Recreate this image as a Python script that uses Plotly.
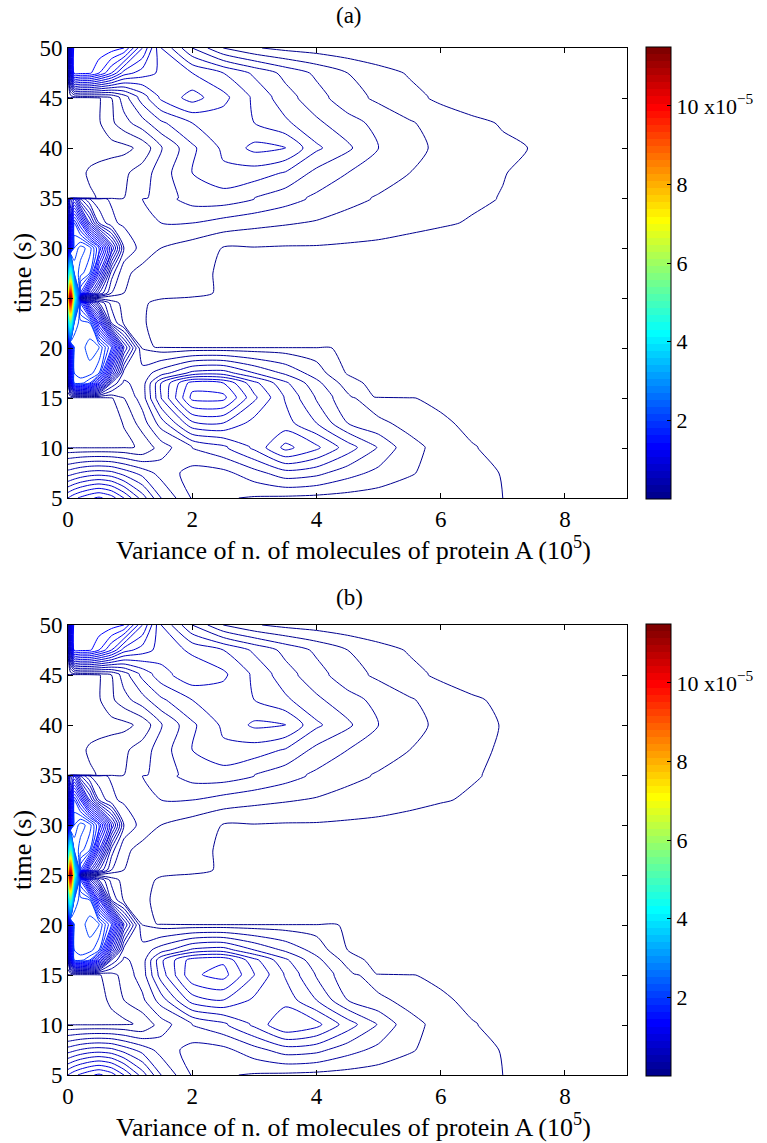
import numpy as np
import plotly.graph_objects as go

# variance grid (units of 10^5) and time rows (s)
X_VAR = [0, 0.04, 0.1, 0.2, 0.35, 0.5, 0.7, 0.9, 1.2, 1.5, 2.0, 2.5, 3.0, 3.5,
         4.0, 4.5, 5.0, 5.5, 6.0, 6.5, 7.0, 7.5, 8.0, 9.0]
TIME_ROWS = [5, 7.5, 10, 10.1, 12.5, 15, 15.1, 16.5, 17.5, 20, 20.1, 22.5, 24.5, 25,
             25.5, 27.5, 30, 32.5, 34.9, 35, 37.5, 40, 42.5, 45, 45.1, 47.5, 50]

# probability density, units of 10^-6, one row per time
Z_A = [
    [10, 10.3, 10.7, 11.2, 11.8, 12.2, 11.5, 10, 7.5, 5, 2.9, 2.1, 1.9, 1.8, 1.7, 1.6, 1.5, 1.4, 1.3, 1.2, 1.0, 0.7, 0.3, 0],
    [5.5, 5.6, 5.8, 6.1, 6.4, 6.5, 6.3, 5.6, 4.6, 3.6, 2.6, 2.7, 3.6, 4.6, 4.3, 3.4, 2.7, 2.1, 1.6, 1.35, 0.95, 0.6, 0.1, 0],
    [1.2, 1.2, 1.2, 1.2, 1.2, 1.2, 1.2, 1.2, 1.1, 2.5, 4.0, 4.8, 6.2, 8.3, 7.2, 5.5, 3.9, 2.3, 1.7, 1.1, 0.6, 0.2, 0, 0],
    [0.2, 0.2, 0.2, 0.2, 0.2, 0.2, 0.3, 0.6, 1.3, 2.5, 4.0, 4.8, 6.2, 8.3, 7.2, 5.5, 3.9, 2.3, 1.7, 1.1, 0.6, 0.2, 0, 0],
    [0.2, 0.2, 0.2, 0.2, 0.2, 0.2, 0.3, 1.1, 2.5, 4.5, 7.8, 8.0, 6.6, 6.4, 5.0, 3.0, 2.2, 1.7, 1.3, 0.6, 0.2, 0, 0, 0],
    [0.8, 0.8, 0.8, 0.8, 0.8, 0.8, 0.9, 2.0, 3.5, 7.0, 11.3, 11.3, 8.2, 5.9, 3.9, 2.2, 1.4, 1.1, 0.6, 0.2, 0, 0, 0, 0],
    [1.5, 1.5, 1.5, 1.5, 1.5, 1.5, 1.5, 2.2, 3.5, 7.0, 11.3, 11.3, 8.2, 5.9, 3.9, 2.2, 0.8, 0.6, 0.3, 0.1, 0, 0, 0, 0],
    [3, 10, 19, 19.5, 18, 13, 5, 2.8, 3.5, 7, 10.5, 10, 7.3, 5.2, 3.3, 1.5, 0.5, 0.3, 0.1, 0, 0, 0, 0, 0],
    [4, 12, 20, 20.5, 20.5, 19, 10, 3.5, 3.5, 4.5, 6.3, 6.5, 5.0, 3.8, 2.5, 0.9, 0.3, 0.1, 0, 0, 0, 0, 0, 0],
    [4, 12, 20, 20.5, 21.5, 21, 17, 8, 1.9, 1.5, 1.5, 1.5, 1.5, 1.5, 1.4, 0.6, 0.3, 0.1, 0, 0, 0, 0, 0, 0],
    [4, 12, 20, 20.5, 21.5, 21, 17, 8, 1.5, 0.7, 0.3, 0.2, 0.1, 0.1, 0.1, 0, 0, 0, 0, 0, 0, 0, 0, 0],
    [30, 50, 22, 20.5, 20, 13, 4, 1.8, 1.1, 0.6, 0.2, 0, 0, 0, 0, 0, 0, 0, 0, 0, 0, 0, 0, 0],
    [50, 102, 40, 17, 9, 5, 2.6, 1.6, 1.1, 0.8, 0.5, 0.2, 0, 0, 0, 0, 0, 0, 0, 0, 0, 0, 0, 0],
    [60, 115.5, 50, 3, 1.8, 1.5, 1.3, 1.2, 1.1, 1.05, 0.95, 0.4, 0, 0, 0, 0, 0, 0, 0, 0, 0, 0, 0, 0],
    [50, 102, 40, 17, 10, 6, 3, 2, 1.6, 1.4, 1.2, 0.9, 0.3, 0, 0, 0, 0, 0, 0, 0, 0, 0, 0, 0],
    [30, 50, 22, 20.5, 19, 12, 4.5, 2.2, 1.7, 1.5, 1.3, 0.85, 0.3, 0, 0, 0, 0, 0, 0, 0, 0, 0, 0, 0],
    [5, 12, 20, 21.5, 20.5, 17, 10, 4, 2.5, 2.0, 1.5, 0.95, 0.95, 0.9, 0.9, 0.85, 0.8, 0.6, 0.3, 0.1, 0, 0, 0, 0],
    [4, 11, 18, 15, 9, 5, 3.2, 2.8, 3.0, 3.0, 3.0, 2.6, 2.3, 2.1, 1.9, 1.6, 1.4, 1.3, 1.15, 0.9, 0.4, 0, 0, 0],
    [3, 8, 10, 6, 4, 3.2, 2.9, 2.8, 3.0, 3.6, 4.4, 4.5, 4.0, 3.4, 2.8, 2.3, 1.9, 1.6, 1.35, 1.2, 0.95, 0.1, 0, 0],
    [0.3, 0.3, 0.4, 0.6, 0.8, 1.1, 1.5, 2.0, 2.8, 3.5, 4.4, 4.5, 4.0, 3.4, 2.8, 2.3, 1.9, 1.6, 1.35, 1.2, 0.95, 0.1, 0, 0],
    [0.3, 0.3, 0.4, 0.7, 1.2, 1.4, 1.6, 1.8, 2.5, 3.5, 5.0, 5.8, 5.5, 4.9, 3.7, 3.0, 2.5, 2.0, 1.6, 1.3, 1.05, 0.7, 0, 0],
    [0.3, 0.3, 0.3, 0.3, 0.4, 0.5, 0.6, 0.7, 1.3, 2.9, 4.8, 6.2, 7.3, 7.05, 5.2, 4.2, 3.0, 2.3, 1.8, 1.5, 1.2, 0.95, 0.2, 0],
    [0.3, 0.3, 0.3, 0.4, 0.6, 0.9, 1.8, 2.6, 3.6, 4.8, 6.0, 6.4, 6.0, 5.2, 4.2, 3.4, 2.7, 2.1, 1.6, 1.3, 0.9, 0.4, 0, 0],
    [0.5, 0.5, 0.5, 0.5, 0.6, 0.9, 2.0, 3.5, 5.5, 7.2, 8.4, 7.3, 5.8, 4.4, 3.4, 2.4, 1.8, 1.3, 0.8, 0.3, 0, 0, 0, 0],
    [1.5, 1.5, 1.8, 1.8, 1.8, 1.9, 2.2, 3.5, 5.5, 7.2, 8.4, 7.3, 5.8, 4.4, 3.4, 2.4, 1.8, 1.3, 0.8, 0.3, 0, 0, 0, 0],
    [2, 8, 15.5, 15.3, 15.2, 14, 12, 9.5, 8.5, 7.8, 7.0, 6.0, 4.8, 3.7, 2.8, 2.0, 1.4, 0.9, 0.4, 0, 0, 0, 0, 0],
    [2, 9, 16, 15.8, 15.8, 15.8, 15.5, 15, 11, 7, 4, 2, 1.1, 0.7, 0.5, 0.3, 0.1, 0, 0, 0, 0, 0, 0, 0],
]

Z_B = [
    [10, 10.3, 10.7, 11.2, 11.8, 12.2, 11.5, 10, 7.5, 5, 2.9, 2.1, 1.9, 1.8, 1.7, 1.6, 1.5, 1.4, 1.3, 1.2, 1.0, 0.7, 0.3, 0],
    [5.5, 5.6, 5.8, 6.1, 6.4, 6.5, 6.3, 5.6, 4.6, 3.6, 2.6, 2.7, 3.6, 4.5, 4.3, 3.4, 2.7, 2.1, 1.6, 1.35, 0.95, 0.6, 0.1, 0],
    [1.2, 1.2, 1.2, 1.2, 1.2, 1.2, 1.2, 1.2, 1.1, 2.5, 4.0, 4.8, 6.2, 8.0, 7.3, 5.5, 3.9, 2.3, 1.7, 1.1, 0.6, 0.2, 0, 0],
    [0.2, 0.2, 0.2, 0.2, 0.2, 0.3, 0.5, 0.7, 1.3, 2.5, 4.0, 4.8, 6.2, 8.0, 7.3, 5.5, 3.9, 2.3, 1.7, 1.1, 0.6, 0.2, 0, 0],
    [0.2, 0.2, 0.2, 0.2, 0.3, 0.5, 1.3, 2.0, 2.8, 4.5, 7.5, 8.0, 6.8, 6.6, 5.0, 3.0, 2.2, 1.7, 1.3, 0.6, 0.2, 0, 0, 0],
    [0.8, 0.8, 0.8, 0.8, 0.8, 0.9, 1.6, 2.4, 3.5, 6.5, 9.8, 10.4, 8.0, 5.9, 3.9, 2.3, 1.5, 1.1, 0.6, 0.2, 0, 0, 0, 0],
    [1.5, 1.5, 1.5, 1.5, 1.5, 1.5, 1.8, 2.4, 3.5, 6.5, 9.8, 10.4, 8.0, 5.9, 3.9, 2.3, 0.9, 0.6, 0.3, 0.1, 0, 0, 0, 0],
    [3, 10, 19, 19.5, 18, 13, 5, 2.8, 3.5, 6.8, 9.5, 9.8, 7.3, 5.2, 3.3, 1.6, 0.5, 0.3, 0.1, 0, 0, 0, 0, 0],
    [4, 12, 20, 20.5, 20.5, 19, 10, 3.5, 3.5, 4.5, 6.2, 6.5, 5.0, 3.8, 2.6, 1.0, 0.3, 0.1, 0, 0, 0, 0, 0, 0],
    [4, 12, 20, 20.5, 21.5, 21, 17, 8, 2, 1.6, 1.5, 1.5, 1.5, 1.5, 1.5, 0.8, 0.3, 0.1, 0, 0, 0, 0, 0, 0],
    [4, 12, 20, 20.5, 21.5, 21, 17, 8, 1.6, 0.8, 0.3, 0.2, 0.1, 0.1, 0.1, 0, 0, 0, 0, 0, 0, 0, 0, 0],
    [30, 50, 22, 20.5, 20, 13, 4, 1.8, 1.2, 0.7, 0.2, 0, 0, 0, 0, 0, 0, 0, 0, 0, 0, 0, 0, 0],
    [50, 102, 40, 17, 9, 5, 2.6, 1.6, 1.2, 0.9, 0.5, 0.2, 0, 0, 0, 0, 0, 0, 0, 0, 0, 0, 0, 0],
    [60, 115.5, 50, 3, 1.8, 1.5, 1.3, 1.2, 1.1, 1.05, 0.95, 0.4, 0, 0, 0, 0, 0, 0, 0, 0, 0, 0, 0, 0],
    [50, 102, 40, 17, 10, 6, 3, 2, 1.6, 1.4, 1.2, 0.9, 0.3, 0, 0, 0, 0, 0, 0, 0, 0, 0, 0, 0],
    [30, 50, 22, 20.5, 19, 12, 4.5, 2.2, 1.7, 1.5, 1.3, 0.85, 0.3, 0, 0, 0, 0, 0, 0, 0, 0, 0, 0, 0],
    [5, 12, 20, 21.5, 20.5, 17, 10, 4, 2.5, 2.0, 1.5, 0.95, 0.95, 0.9, 0.9, 0.85, 0.8, 0.6, 0.3, 0.1, 0, 0, 0, 0],
    [4, 11, 18, 15, 9, 5, 3.2, 2.8, 3.0, 3.0, 3.0, 2.6, 2.3, 2.1, 1.9, 1.6, 1.4, 1.3, 1.1, 0.85, 0.3, 0, 0, 0],
    [3, 8, 10, 6, 4, 3.2, 2.9, 2.8, 3.0, 3.6, 4.4, 4.5, 4.0, 3.4, 2.8, 2.3, 1.9, 1.6, 1.3, 1.1, 0.8, 0.1, 0, 0],
    [0.3, 0.3, 0.4, 0.6, 0.8, 1.1, 1.5, 2.0, 2.8, 3.5, 4.4, 4.5, 4.0, 3.4, 2.8, 2.3, 1.9, 1.6, 1.3, 1.1, 0.8, 0.1, 0, 0],
    [0.3, 0.3, 0.4, 0.7, 1.2, 1.4, 1.6, 1.8, 2.5, 3.5, 5.0, 5.8, 5.5, 4.9, 3.7, 3.0, 2.5, 2.0, 1.55, 1.2, 0.9, 0.3, 0, 0],
    [0.3, 0.3, 0.3, 0.3, 0.4, 0.5, 0.6, 0.7, 1.3, 2.9, 4.8, 6.2, 7.2, 7.05, 5.2, 4.2, 3.0, 2.3, 1.8, 1.35, 0.95, 0.3, 0, 0],
    [0.3, 0.3, 0.3, 0.4, 0.6, 0.9, 1.8, 2.6, 3.6, 4.8, 6.0, 6.4, 6.0, 5.2, 4.2, 3.4, 2.7, 2.1, 1.6, 1.2, 0.75, 0.2, 0, 0],
    [0.5, 0.5, 0.5, 0.5, 0.6, 0.9, 2.0, 3.5, 5.3, 6.6, 7.7, 7.2, 5.8, 4.4, 3.4, 2.4, 1.8, 1.3, 0.8, 0.3, 0, 0, 0, 0],
    [1.5, 1.5, 1.8, 1.8, 1.8, 1.9, 2.2, 3.5, 5.3, 6.6, 7.7, 7.2, 5.8, 4.4, 3.4, 2.4, 1.8, 1.3, 0.8, 0.3, 0, 0, 0, 0],
    [2, 8, 15.5, 15.3, 15.2, 14, 12, 9.5, 8.5, 7.6, 6.8, 6.0, 4.8, 3.7, 2.8, 2.0, 1.4, 0.9, 0.4, 0, 0, 0, 0, 0],
    [2, 9, 16, 15.8, 15.8, 15.8, 15.5, 15, 11, 7, 4, 2, 1.1, 0.7, 0.5, 0.3, 0.1, 0, 0, 0, 0, 0, 0, 0],
]

X_TICKS = [0, 2, 4, 6, 8]
Y_TICKS = [5, 10, 15, 20, 25, 30, 35, 40, 45, 50]
CB_TICKS = [20, 40, 60, 80, 100]
CB_TEXT = ["2", "4", "6", "8", "10 x10<sup>\u22125</sup>"]
Z_MAX = 115
PANEL_TITLES = ["(a)", "(b)"]
X_LABEL = "Variance of n. of molecules of protein A (10<sup>5</sup>)"
Y_LABEL = "time (s)"


def matlab_jet(m=64):
    n = int(np.ceil(m / 4))
    u = np.concatenate([np.arange(1, n + 1) / n, np.ones(n - 1), np.arange(n, 0, -1) / n])
    g = int(np.ceil(n / 2)) - (1 if m % 4 == 1 else 0) + np.arange(1, len(u) + 1)
    r = g + n
    b = g - n
    J = np.zeros((m, 3))
    for idx, col in ((r, 0), (g, 1), (b, 2)):
        mask = (idx >= 1) & (idx <= m)
        J[idx[mask] - 1, col] = u[mask]
    return J


jet = matlab_jet(64)
cscale = []
for i, c in enumerate(jet):
    col = "rgb(%d,%d,%d)" % tuple(int(round(v * 255)) for v in c)
    cscale.append([i / 64, col])
    cscale.append([(i + 1) / 64, col])

FONT = "Liberation Serif, Times New Roman, Times, serif"
W, H = 767, 1143
px_l, px_r = 68, 627
panels = [(48, 498), (625, 1075)]
title_py = [15, 598]
cb_x0 = 646
TICK_SIZE = 23
LABEL_SIZE = 26

fig = go.Figure()
for k, (Z, (ptop, pbot)) in enumerate(zip([Z_A, Z_B], panels)):
    xa = "x" if k == 0 else "x2"
    ya = "y" if k == 0 else "y2"
    fig.add_trace(go.Contour(
        x=X_VAR, y=TIME_ROWS, z=Z, xaxis=xa, yaxis=ya,
        zmin=0, zmax=Z_MAX, zauto=False, colorscale=cscale,
        contours=dict(start=1, end=Z_MAX, size=1, coloring="lines"),
        line=dict(width=1, smoothing=0.7),
        showscale=False, hoverinfo="skip",
    ))
    cy = 1 - (ptop + pbot) / 2 / H
    fig.add_trace(go.Scatter(
        x=[-50, -50], y=[-50, -50], xaxis=xa, yaxis=ya, mode="markers",
        hoverinfo="skip",
        marker=dict(color=[0, Z_MAX], cmin=0, cmax=Z_MAX, colorscale=cscale, size=1,
                    showscale=True,
                    colorbar=dict(x=cb_x0 / W, xanchor="left", y=cy, yanchor="middle",
                                  len=(pbot - ptop + 2) / H, lenmode="fraction",
                                  thickness=25, thicknessmode="pixels",
                                  xpad=0, ypad=0, outlinewidth=1, outlinecolor="black",
                                  tickvals=CB_TICKS, ticktext=CB_TEXT,
                                  ticks="inside", ticklen=4, tickcolor="black",
                                  tickfont=dict(family=FONT, size=TICK_SIZE - 1, color="black"))),
    ))

axis_common = dict(showline=True, linecolor="black", linewidth=1, mirror="allticks",
                   ticks="inside", ticklen=5, tickcolor="black", showgrid=False,
                   zeroline=False, automargin=False,
                   tickfont=dict(family=FONT, size=TICK_SIZE, color="black"))
xdom = [px_l / W, px_r / W]
layout = dict(width=W, height=H, margin=dict(l=0, r=0, t=0, b=0, autoexpand=False),
              paper_bgcolor="white", plot_bgcolor="white", showlegend=False,
              font=dict(family=FONT, color="black"))
annotations = []
for k, (ptop, pbot) in enumerate(panels):
    sfx = "" if k == 0 else "2"
    ydom = [1 - pbot / H, 1 - ptop / H]
    layout["xaxis" + sfx] = dict(axis_common, domain=xdom, range=[0, 9], tickvals=X_TICKS,
                                 anchor="y" + sfx)
    layout["yaxis" + sfx] = dict(axis_common, domain=ydom, range=[5, 50], tickvals=Y_TICKS,
                                 anchor="x" + sfx)
    annotations.append(dict(text=PANEL_TITLES[k], x=349 / W, y=1 - title_py[k] / H,
                            xref="paper", yref="paper", showarrow=False,
                            xanchor="center", yanchor="middle",
                            font=dict(family=FONT, size=23, color="black")))
    annotations.append(dict(text=X_LABEL, x=353 / W, y=1 - (pbot + 50) / H,
                            xref="paper", yref="paper", showarrow=False,
                            xanchor="center", yanchor="middle",
                            font=dict(family=FONT, size=LABEL_SIZE, color="black")))
    annotations.append(dict(text=Y_LABEL, x=22 / W, y=1 - (ptop + pbot) / 2 / H,
                            xref="paper", yref="paper", showarrow=False, textangle=-90,
                            xanchor="center", yanchor="middle",
                            font=dict(family=FONT, size=LABEL_SIZE, color="black")))
layout["annotations"] = annotations
fig.update_layout(**layout)
fig.write_html("out.html", config={"displayModeBar": False})
